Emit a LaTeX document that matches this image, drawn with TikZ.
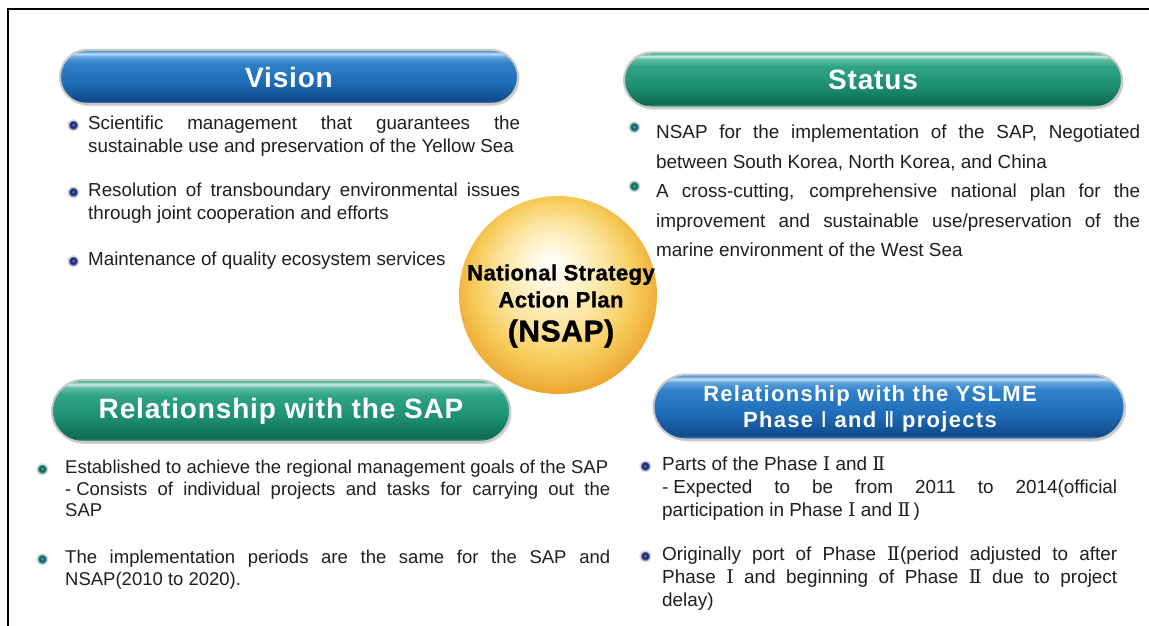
\documentclass[tikz,border=0pt]{standalone}
\usepackage{fontspec}
\setmainfont{Liberation Sans}
\newfontfamily\romfont{DejaVu Serif}
\newfontfamily\barfont{DejaVu Sans}
\usepackage{xcolor}
\usetikzlibrary{shapes.misc,shadows}

\tolerance=10000
\hbadness=10000

\definecolor{bluedark}{HTML}{0F4A8A}
\definecolor{bluemain}{HTML}{1F6DB8}
\definecolor{bluemid}{HTML}{3080C8}
\definecolor{bluelight}{HTML}{5EA2DD}
\definecolor{bluehi}{HTML}{C5DEF3}
\definecolor{blueedge}{HTML}{6A9FD0}
\definecolor{greendark}{HTML}{0D6B50}
\definecolor{greenmain}{HTML}{1E8F70}
\definecolor{greenmid}{HTML}{2FA484}
\definecolor{greenlight}{HTML}{5FBEA2}
\definecolor{greenhi}{HTML}{C9ECE1}
\definecolor{greenedge}{HTML}{7CC6B0}
\definecolor{ballcream}{HTML}{FFF8DE}
\definecolor{ballpale}{HTML}{FBE39A}
\definecolor{ballyellow}{HTML}{F6C955}
\definecolor{ballorange}{HTML}{EDA632}
\definecolor{balldeep}{HTML}{D98D20}
\definecolor{balldark}{HTML}{B0701A}
\definecolor{dotnavy}{HTML}{1C2F78}
\definecolor{dotsky}{HTML}{8FB2E0}
\definecolor{dotteal}{HTML}{0F6F68}
\definecolor{dotmint}{HTML}{8FD3C9}

% the part from 25bp to 75bp is what covers the path
\pgfdeclareverticalshading{pillblueshade}{100bp}{color(0bp)=(blueedge); color(25bp)=(blueedge); color(28bp)=(bluedark); color(45bp)=(bluemain); color(62.5bp)=(bluemid); color(69bp)=(bluelight); color(71.5bp)=(bluehi); color(73.5bp)=(bluelight); color(75bp)=(bluemid); color(100bp)=(bluemid)}
\pgfdeclareverticalshading{pillgreenshade}{100bp}{color(0bp)=(greenedge); color(25bp)=(greenedge); color(28bp)=(greendark); color(45bp)=(greenmain); color(62.5bp)=(greenmid); color(69bp)=(greenlight); color(71.5bp)=(greenhi); color(73.5bp)=(greenlight); color(75bp)=(greenmid); color(100bp)=(greenmid)}
\pgfdeclareradialshading{nsapball}{\pgfpoint{-2bp}{8.5bp}}{color(0bp)=(white); color(5bp)=(ballcream); color(14bp)=(ballpale); color(21bp)=(ballyellow); color(27bp)=(ballorange); color(31bp)=(balldeep); color(34bp)=(balldark); color(36bp)=(balldark)}
\pgfdeclareradialshading{dotblueshade}{\pgfpoint{0bp}{1.5bp}}{color(0bp)=(dotsky); color(5bp)=(dotnavy); color(14bp)=(dotnavy); color(17bp)=(black!18); color(24bp)=(black!8); color(26.5bp)=(white)}
\pgfdeclareradialshading{dotgreenshade}{\pgfpoint{0bp}{1.5bp}}{color(0bp)=(dotmint); color(5bp)=(dotteal); color(14bp)=(dotteal); color(17bp)=(black!18); color(24bp)=(black!8); color(26.5bp)=(white)}

\newcommand\phI{{\romfont Ⅰ}}
\newcommand\phII{{\romfont Ⅱ}}

\begin{document}
\begin{tikzpicture}[x=1pt,y=-1pt,
  pill/.style={rounded rectangle,inner sep=0pt,draw=black!22,line width=2pt,
    drop shadow={shadow xshift=1.5pt,shadow yshift=-2pt,opacity=.3},
    text=white,font=\bfseries\fontsize{28}{28}\selectfont\addfontfeature{LetterSpace=3}},
  pillblue/.style={pill,shade,shading=pillblueshade},
  pillgreen/.style={pill,shade,shading=pillgreenshade},
  item/.style={anchor=north west,inner sep=0pt,align=justify,text=black!88},
  dotblue/.style={circle,minimum size=13pt,inner sep=0pt,shade,shading=dotblueshade},
  dotgreen/.style={circle,minimum size=13pt,inner sep=0pt,shade,shading=dotgreenshade}]
\useasboundingbox (0,0) rectangle (1149,626);
\fill[white] (0,0) rectangle (1149,626);
\draw[line width=1.3pt] (8,626) -- (8,9) -- (1149,9);

% centre
\node (nsap) at (558,295) [circle,minimum size=198pt,inner sep=0pt,shade,shading=nsapball] {};
\node (nsaptitle) at (561,306) [align=center,font=\bfseries\fontsize{22}{27}\selectfont\addfontfeature{LetterSpace=2,FakeBold=1.2}]
  {National Strategy\\Action Plan\\[7pt]{\fontsize{30}{30}\selectfont (NSAP)}};

% headings
\node (vision) at (289,77) [pillblue,minimum width=458pt,minimum height=54pt] {Vision};
\node (status) at (873,80) [pillgreen,minimum width=498pt,minimum height=55pt] {Status};
\node (sap) at (281,411) [pillgreen,minimum width=458pt,minimum height=62pt] {Relationship with the SAP};
\node (yslme) at (889,407) [pillblue,minimum width=471pt,minimum height=65pt] {};
\node (yslmetitle) at (870,409) [align=center,text=white,font=\bfseries\fontsize{22}{26}\selectfont\addfontfeature{LetterSpace=6}]
  {Relationship with the YSLME\\Phase {\barfont\mdseries Ⅰ} and {\barfont\mdseries Ⅱ} projects};

% Vision
\node (vis1) at (88,116) [item,text width=432pt,font=\fontsize{18.8}{23}\selectfont]
  {Scientific management that guarantees the\linebreak sustainable use and preservation of the Yellow Sea};
\node (vis2) at (88,183) [item,text width=432pt,font=\fontsize{18.8}{23}\selectfont]
  {Resolution of transboundary environmental issues\linebreak through joint cooperation and efforts};
\node (vis3) at (88,252) [item,text width=432pt,font=\fontsize{18.8}{23}\selectfont]
  {Maintenance of quality ecosystem services};
\node (vis1dot) at ([xshift=-15pt,yshift=-9pt]vis1.north west) [dotblue] {};
\node (vis2dot) at ([xshift=-15pt,yshift=-9pt]vis2.north west) [dotblue] {};
\node (vis3dot) at ([xshift=-15pt,yshift=-9pt]vis3.north west) [dotblue] {};

% Status
\node (sta1) at (656,125) [item,text width=484pt,font=\fontsize{18.9}{29.5}\selectfont]
  {NSAP for the implementation of the SAP, Negotiated\linebreak between South Korea, North Korea, and China};
\node (sta2) at (656,184) [item,text width=484pt,font=\fontsize{18.9}{29.5}\selectfont]
  {A cross-cutting, comprehensive national plan for the\linebreak improvement and sustainable use/preservation of the\linebreak marine environment of the West Sea};
\node (sta1dot) at ([xshift=-22pt,yshift=-2pt]sta1.north west) [dotgreen] {};
\node (sta2dot) at ([xshift=-22pt,yshift=-2pt]sta2.north west) [dotgreen] {};

% SAP
\node (sap1) at (65,460) [item,text width=545pt,font=\fontsize{18.5}{21.5}\selectfont]
  {Established to achieve the regional management goals of the SAP\newline -\hspace{5pt}Consists of individual projects and tasks for carrying out the\linebreak SAP};
\node (sap2) at (65,550) [item,text width=545pt,font=\fontsize{18.5}{21.5}\selectfont]
  {The implementation periods are the same for the SAP and\linebreak NSAP(2010 to 2020).};
\node (sap1dot) at ([xshift=-23pt,yshift=-9pt]sap1.north west) [dotgreen] {};
\node (sap2dot) at ([xshift=-23pt,yshift=-9pt]sap2.north west) [dotgreen] {};

% YSLME
\node (ysl1) at (662,457) [item,text width=455pt,font=\fontsize{18.9}{23}\selectfont]
  {Parts of the Phase \phI\ and \phII\newline -\hspace{5pt}Expected to be from 2011 to 2014(official\linebreak participation in Phase \phI\ and \phII\,)};
\node (ysl2) at (662,547) [item,text width=455pt,font=\fontsize{18.9}{23}\selectfont]
  {Originally port of Phase \phII(period adjusted to after\linebreak Phase \phI\ and beginning of Phase \phII\ due to project\linebreak delay)};
\node (ysl1dot) at ([xshift=-17pt,yshift=-9pt]ysl1.north west) [dotblue] {};
\node (ysl2dot) at ([xshift=-17pt,yshift=-9pt]ysl2.north west) [dotblue] {};
\end{tikzpicture}
\end{document}
